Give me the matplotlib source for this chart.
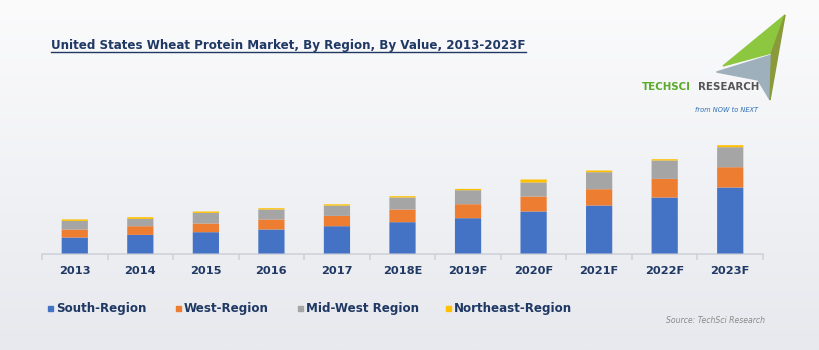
import matplotlib
matplotlib.use("Agg")
import matplotlib.pyplot as plt
import numpy as np
from matplotlib.patches import Rectangle, Polygon
from matplotlib.lines import Line2D
from matplotlib.colors import LinearSegmentedColormap

# ---- data (arbitrary value units) ----
years = ["2013", "2014", "2015", "2016", "2017", "2018E",
         "2019F", "2020F", "2021F", "2022F", "2023F"]
south = [16.0, 18.6, 21.3, 24.0, 27.3, 31.3, 35.3, 42.0, 48.0, 56.0, 66.0]
west = [8.0, 8.7, 8.7, 10.0, 10.3, 12.7, 14.0, 15.0, 16.3, 18.6, 20.3]
midwest = [8.6, 7.3, 10.6, 10.0, 10.3, 12.0, 14.0, 14.0, 17.0, 18.4, 20.0]
northeast = [1.5, 1.7, 1.4, 1.3, 1.3, 1.3, 1.3, 3.0, 1.7, 1.3, 2.0]
series_names = ["South-Region", "West-Region", "Mid-West Region", "Northeast-Region"]
series_colors = ["#4472C4", "#ED7D31", "#A5A5A5", "#FFC000"]
title = "United States Wheat Protein Market, By Region, By Value, 2013-2023F"
source = "Source: TechSci Research"

W, H = 820, 350
NAVY = "#1F3864"
fig = plt.figure(figsize=(W / 100, H / 100), dpi=100)

def fx(px):
    return px / W

def fy(py):
    return 1 - py / H

# background gradient
bg = fig.add_axes([0, 0, 1, 1], zorder=-10)
grad = np.linspace(0, 1, 256)[:, None]
cmap = LinearSegmentedColormap.from_list("bg", ["#fbfbfc", "#f1f2f5", "#e7e9ee"])
bg.imshow(grad, aspect="auto", cmap=cmap, extent=[0, 1, 0, 1], origin="upper")
bg.set_xlim(0, 1)
bg.set_ylim(0, 1)
bg.axis("off")

# main axes
base_y = 253.5
top_y = 40
ax = fig.add_axes([fx(42), fy(base_y), fx(763) - fx(42), (base_y - top_y) / H])
ax.patch.set_alpha(0)
x = np.arange(len(years))
bottom = np.zeros(len(years))
for vals, col in zip([south, west, midwest, northeast], series_colors):
    bars = ax.bar(x, vals, width=0.4, bottom=bottom, color=col, edgecolor="none", zorder=3)
    for b in bars:
        b.set_snap(False)
    bottom += np.array(vals)
ax.set_xlim(-0.5, len(years) - 0.5)
ax.set_ylim(0, base_y - top_y)
for s in ["top", "left", "right"]:
    ax.spines[s].set_visible(False)
ax.spines["bottom"].set_color("#cfd2d8")
ax.spines["bottom"].set_linewidth(1.2)
ax.set_yticks([])
ax.set_xticks(x)
ax.set_xticklabels(years, fontsize=8.2, fontweight="bold", color=NAVY)
ax.tick_params(axis="x", which="major", length=0, pad=9)
ax.set_xticks(np.arange(-0.5, len(years)), minor=True)
ax.tick_params(axis="x", which="minor", length=4, color="#cfd2d8", width=1.2)

# title with underline
t = fig.text(fx(51.5), fy(45), title, fontsize=8.55, fontweight="bold", color=NAVY,
             ha="left", va="center")
fig.canvas.draw()
bb = t.get_window_extent()
uy = bb.y0 - 0.5
fig.add_artist(Line2D([bb.x0 / W, bb.x1 / W], [uy / H, uy / H], color=NAVY, lw=1.0))

# legend
leg_x = [50.7, 179, 300.7, 449]
leg_y = 308.5
for lx, name, col in zip(leg_x, series_names, series_colors):
    fig.add_artist(Rectangle((fx(lx - 2.5), fy(leg_y + 2.5)), 5 / W, 5 / H,
                             color=col, transform=fig.transFigure))
    fig.text(fx(lx + 5), fy(leg_y), name, fontsize=8.6, fontweight="bold",
             color=NAVY, ha="left", va="center")

fig.text(fx(765), fy(320.5), source, fontsize=5.6, style="italic",
         color="#8a8a8a", ha="right", va="center")

# logo (decorative)
def P(pts):
    return [(fx(a), fy(b)) for a, b in pts]

fig.add_artist(Polygon(P([(785, 15), (723, 66), (771.5, 53)]), closed=True,
                       color="#8DC63F", transform=fig.transFigure))
fig.add_artist(Polygon(P([(716.5, 72), (771.5, 55), (770, 100), (758, 80)]), closed=True,
                       color="#9fb0bd", transform=fig.transFigure))
fig.add_artist(Polygon(P([(785, 15), (771.5, 53), (770, 100)]), closed=True,
                       color="#8a9a3a", transform=fig.transFigure))
fig.text(fx(642), fy(87), "TECHSCI", fontsize=7.4, fontweight="bold", color="#5aaa2a",
         ha="left", va="center")
fig.text(fx(759), fy(87), "RESEARCH", fontsize=7.4, fontweight="bold", color="#555555",
         ha="right", va="center")
fig.text(fx(758), fy(110), "from NOW to NEXT", fontsize=4.8, style="italic",
         color="#2f6db5", ha="right", va="center")

fig.savefig("out.png", dpi=100)
